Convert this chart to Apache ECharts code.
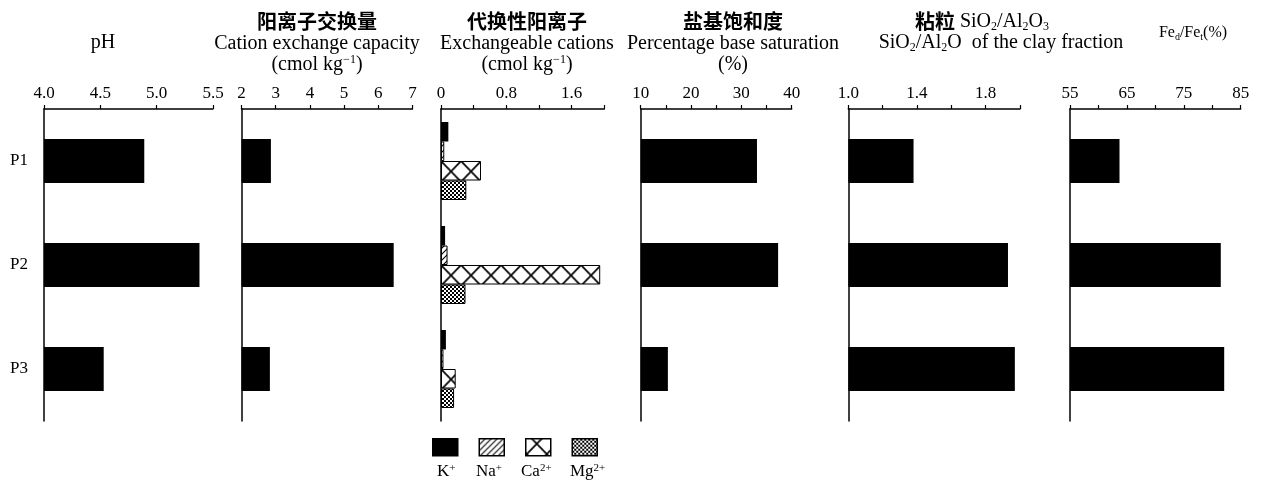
<!DOCTYPE html>
<html>
<head>
<meta charset="utf-8">
<title>土壤性质</title>
<script src="https://cdn.jsdelivr.net/npm/echarts@6/dist/echarts.min.js"></script>
<style>
  html, body { margin: 0; padding: 0; background: #fff; }
  #main { width: 1262px; height: 488px; }
</style>
</head>
<body>
<div id="main"></div>
<script>
// 剖面
var profiles = ['P1', 'P2', 'P3'];

// 各指标数值 (按 P1, P2, P3)
var phValues = [4.89, 5.38, 4.53];
var cecValues = [2.86, 6.45, 2.83];
var kValues = [0.09, 0.05, 0.06];
var naValues = [0.04, 0.08, 0.03];
var caValues = [0.49, 1.95, 0.18];
var mgValues = [0.31, 0.30, 0.16];
var bsValues = [33.1, 37.3, 15.4];
var sialValues = [1.38, 1.93, 1.97];
var fedValues = [63.7, 81.5, 82.1];

// 坐标刻度标签
var phTicks = ['4.0', '4.5', '5.0', '5.5'];
var cecTicks = ['2', '3', '4', '5', '6', '7'];
var cationTicks = ['0', '0.8', '1.6'];
var bsTicks = ['10', '20', '30', '40'];
var sialTicks = ['1.0', '1.4', '1.8'];
var fedTicks = ['55', '65', '75', '85'];

var ionNames = ['K+', 'Na+', 'Ca2+', 'Mg2+'];
var ionLabels = ['{n|K}{s|+}', '{n|Na}{s|+}', '{n|Ca}{s|2+}', '{n|Mg}{s|2+}'];

var serif = 'Liberation Serif';
var cjk = 'Noto Sans CJK SC';

// 花纹
function makeTile(w, h, draw) {
  var c = document.createElement('canvas');
  c.width = w;
  c.height = h;
  var ctx = c.getContext('2d');
  ctx.fillStyle = '#fff';
  ctx.fillRect(0, 0, w, h);
  ctx.strokeStyle = '#000';
  ctx.fillStyle = '#000';
  draw(ctx);
  return c;
}
var naTile = makeTile(6, 6, function (ctx) {
  ctx.lineWidth = 1.1;
  ctx.beginPath();
  ctx.moveTo(-1, 7); ctx.lineTo(7, -1);
  ctx.moveTo(-4, 4); ctx.lineTo(4, -4);
  ctx.moveTo(2, 10); ctx.lineTo(10, 2);
  ctx.stroke();
});
var caTile = makeTile(20, 20, function (ctx) {
  ctx.lineWidth = 1.6;
  ctx.beginPath();
  ctx.moveTo(0, 0); ctx.lineTo(20, 20);
  ctx.moveTo(20, 0); ctx.lineTo(0, 20);
  ctx.stroke();
});
var mgTile = makeTile(4, 4, function (ctx) {
  ctx.fillRect(0, 0, 2, 2);
  ctx.fillRect(2, 2, 2, 2);
});

var panels = [
  { left: 44, width: 169, min: 4.0, max: 5.5, interval: 0.5, ticks: phTicks },
  { left: 241.5, width: 171, min: 2, max: 7, interval: 1, ticks: cecTicks },
  { left: 441, width: 163.3, min: 0, max: 2.0, interval: 0.4, ticks: cationTicks },
  { left: 640.7, width: 151, min: 10, max: 40, interval: 5, ticks: bsTicks },
  { left: 848.3, width: 171.7, min: 1.0, max: 2.0, interval: 0.2, ticks: sialTicks },
  { left: 1070, width: 170.7, min: 55, max: 85, interval: 5, ticks: fedTicks }
];

function tickFormatter(ticks) {
  return function (v) {
    var a = v.toFixed(1);
    var b = String(Math.round(v * 100) / 100);
    if (ticks.indexOf(a) >= 0) return a;
    if (ticks.indexOf(b) >= 0) return b;
    return '';
  };
}

var grids = [], xAxes = [], yAxes = [];
panels.forEach(function (p, i) {
  grids.push({ left: p.left, width: p.width, top: 109, height: 312 });
  xAxes.push({
    type: 'value', gridIndex: i, position: 'top',
    min: p.min, max: p.max, interval: p.interval,
    splitLine: { show: false },
    axisLine: { show: true, lineStyle: { color: '#000', width: 1.5 } },
    axisTick: { show: true, length: 4, lineStyle: { color: '#000', width: 1.2 } },
    axisLabel: { color: '#000', fontFamily: serif, fontSize: 17, margin: 7, formatter: tickFormatter(p.ticks) }
  });
  yAxes.push({
    type: 'category', gridIndex: i, inverse: true, data: profiles,
    axisLine: { show: true, lineStyle: { color: '#000', width: 1.5 } },
    axisTick: { show: false },
    axisLabel: { show: i === 0, color: '#000', fontFamily: serif, fontSize: 17, margin: 16 }
  });
});

function solidBar(idx, values) {
  return {
    type: 'bar', xAxisIndex: idx, yAxisIndex: idx, data: values,
    barWidth: 44, itemStyle: { color: '#000' }
  };
}
function ionBar(name, values, color) {
  return {
    name: name, type: 'bar', xAxisIndex: 2, yAxisIndex: 2, data: values,
    barWidth: 19.5, barGap: '0%',
    itemStyle: { color: color, borderColor: '#000', borderWidth: name === 'K+' ? 0 : 1 }
  };
}

var richText = {
  zh: { fontFamily: cjk, fontWeight: 'bold', fontSize: 20, lineHeight: 21.5, color: '#000' },
  en: { fontFamily: serif, fontWeight: 'normal', fontSize: 20, lineHeight: 21.5, color: '#000' },
  sup: { fontFamily: serif, fontWeight: 'normal', fontSize: 12, lineHeight: 12, verticalAlign: 'top', color: '#000' },
  sub: { fontFamily: serif, fontWeight: 'normal', fontSize: 12, lineHeight: 12, verticalAlign: 'bottom', color: '#000' },
  sm: { fontFamily: serif, fontWeight: 'normal', fontSize: 16, lineHeight: 18, color: '#000' },
  smsub: { fontFamily: serif, fontWeight: 'normal', fontSize: 10, lineHeight: 10, verticalAlign: 'bottom', color: '#000' }
};
function head(text, x, y) {
  return {
    text: text, left: x, top: y, textAlign: 'center', padding: 0,
    textStyle: { fontWeight: 'normal', rich: richText }
  };
}

var legendRich = {
  n: { fontFamily: serif, fontSize: 17, lineHeight: 18, color: '#000' },
  s: { fontFamily: serif, fontSize: 11, lineHeight: 10, verticalAlign: 'top', color: '#000' }
};
var labelLefts = [432, 470, 515, 564];
var legends = [{
  data: ionNames, left: 432, top: 438, padding: 0, orient: 'horizontal',
  icon: 'rect', itemWidth: 25, itemHeight: 17, itemGap: 20, selectedMode: false,
  itemStyle: { borderWidth: 1.5 },
  formatter: function () { return ''; }
}];
ionNames.forEach(function (name, i) {
  legends.push({
    data: [name], left: labelLefts[i], top: 463, padding: 0,
    icon: 'rect', itemWidth: 0, itemHeight: 14, selectedMode: false,
    itemStyle: { opacity: 0 },
    formatter: function () { return ionLabels[i]; },
    textStyle: { rich: legendRich }
  });
});

var chart = echarts.init(document.getElementById('main'));
chart.setOption({
  animation: false,
  backgroundColor: '#fff',
  title: [
    head('{en|pH}', 103, 32),
    head('{zh|阳离子交换量}\n{en|Cation exchange capacity}\n{en|(cmol kg}{sup|−1}{en|)}', 317, 11),
    head('{zh|代换性阳离子}\n{en|Exchangeable cations}\n{en|(cmol kg}{sup|−1}{en|)}', 527, 11),
    head('{zh|盐基饱和度}\n{en|Percentage base saturation}\n{en|(%)}', 733, 11),
    head('{zh|粘粒}{en| SiO}{sub|2}{en|/Al}{sub|2}{en|O}{sub|3}', 982, 11),
    head('{en|SiO}{sub|2}{en|/Al}{sub|2}{en|O  of the clay fraction}', 1001, 32),
    head('{sm|Fe}{smsub|d}{sm|/Fe}{smsub|t}{sm|(%)}', 1193, 24)
  ],
  legend: legends,
  grid: grids,
  xAxis: xAxes,
  yAxis: yAxes,
  series: [
    solidBar(0, phValues),
    solidBar(1, cecValues),
    ionBar('K+', kValues, '#000'),
    ionBar('Na+', naValues, { image: naTile, repeat: 'repeat' }),
    ionBar('Ca2+', caValues, { image: caTile, repeat: 'repeat', x: 441, y: 161, scaleY: 1.04 }),
    ionBar('Mg2+', mgValues, { image: mgTile, repeat: 'repeat' }),
    solidBar(3, bsValues),
    solidBar(4, sialValues),
    solidBar(5, fedValues)
  ]
});
</script>
</body>
</html>
